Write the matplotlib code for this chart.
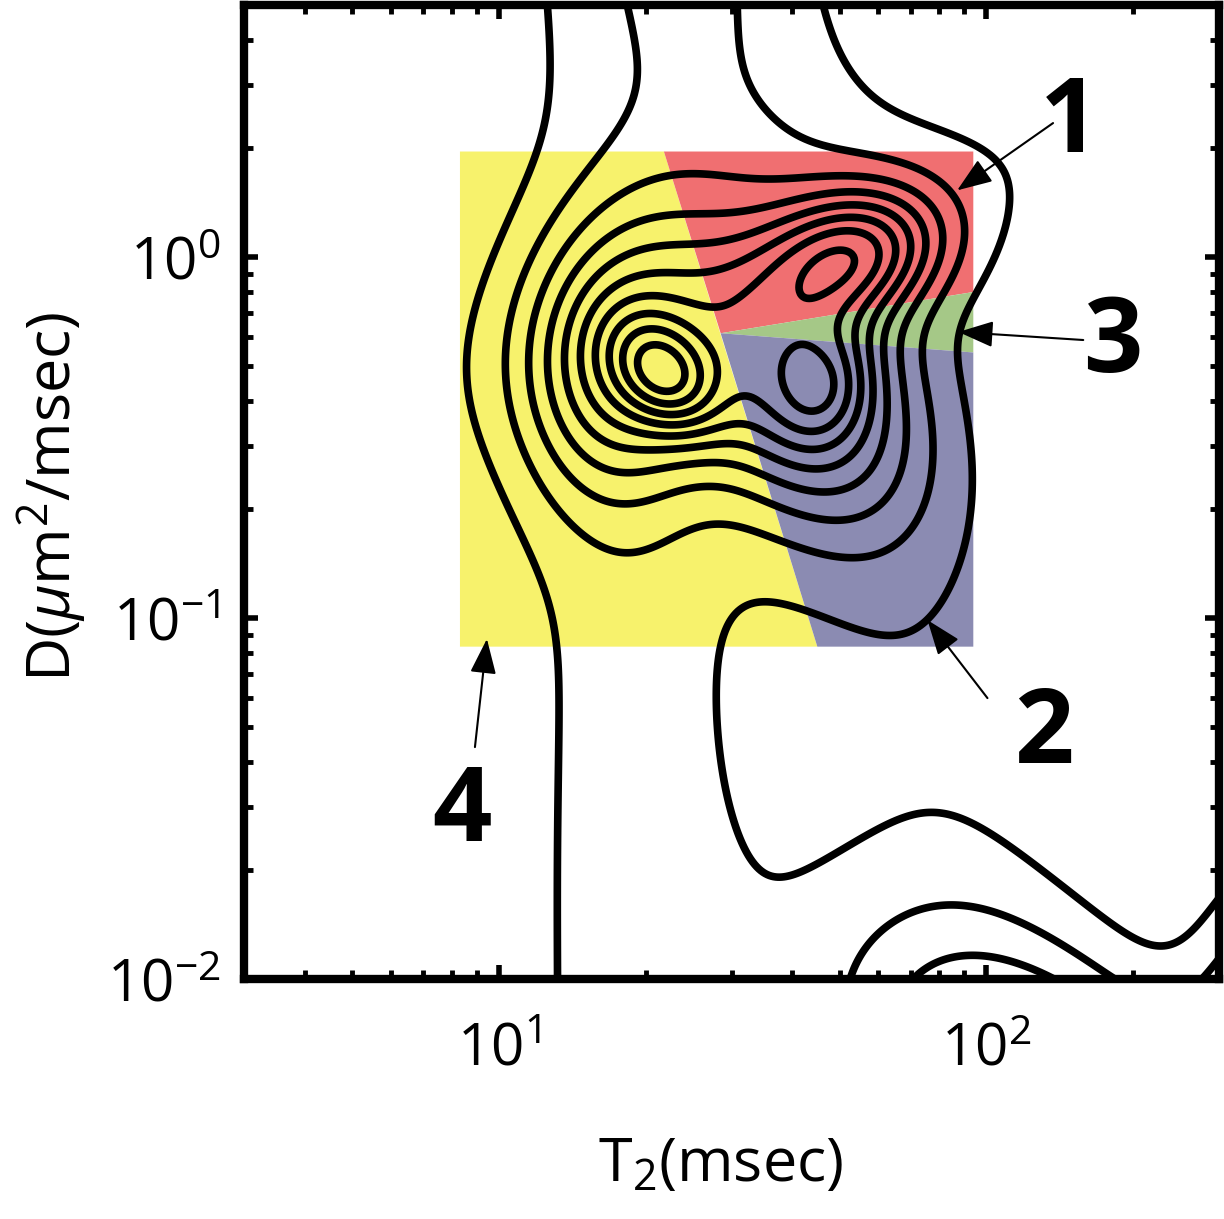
import numpy as np
import matplotlib
matplotlib.use("Agg")
import matplotlib.pyplot as plt
from matplotlib.patches import Polygon
from matplotlib.ticker import LogLocator, NullFormatter

# T2-D distribution, described as a sum of gaussian components (log10 units)
comp_logT2 = [1.344, 1.596, 1.847, 1.669, 1.274, 1.272, 2.214, 2.62, 1.732, 1.240]
comp_logD = [-0.331, -0.352, 0.154, -0.356, 1.702, -2.420, -2.504, -2.6, 0.008, -0.303]
comp_width_T2 = [0.075, 0.174, 0.862, 0.068, 0.543, 0.184, 0.316, 0.12, 0.124, 0.130]
comp_width_D = [0.107, 0.270, 0.490, 0.108, 2.501, 7.410, 0.413, 0.45, 0.129, 0.256]
comp_corr = [-0.311, -0.378, 0.860, 0.141, -0.935, 0.059, -0.587, 0.0, 0.208, 0.041]
comp_height = [3.809, 5.453, 0.841, 1.974, 1.443, 1.399, 6.503, 9.6, 5.25, 4.519]
contour_levels = [1, 2, 3, 4, 5, 6, 7, 8, 9, 10]

# shaded regions (T2, D corners)
region_colors = ["#F7F26C", "#F06F71", "#A5C887", "#8B8BB2"]
region_vertices = [
    [(8.32, 0.0833), (8.32, 1.96), (21.8, 1.96), (45.0, 0.0833)],
    [(21.8, 1.96), (94.0, 1.96), (94.0, 0.80), (28.5, 0.615)],
    [(28.5, 0.615), (94.0, 0.80), (94.0, 0.544)],
    [(28.5, 0.615), (94.0, 0.544), (94.0, 0.0833), (45.0, 0.0833)],
]


def distribution(u, v):
    z = np.zeros_like(u)
    for u0, v0, su, sv, r, a in zip(comp_logT2, comp_logD, comp_width_T2, comp_width_D, comp_corr, comp_height):
        du = (u - u0) / su
        dv = (v - v0) / sv
        z += a * np.exp(-0.5 * (du * du - 2 * r * du * dv + dv * dv) / (1 - r * r))
    return z


plt.rcParams["font.family"] = ["Open Sans", "DejaVu Sans"]
plt.rcParams["mathtext.fontset"] = "custom"
plt.rcParams["mathtext.rm"] = "Open Sans"
plt.rcParams["mathtext.it"] = "Open Sans:italic"

T2 = np.logspace(0.4, 2.55, 500)
D = np.logspace(-2.1, 0.75, 500)
UU, VV = np.meshgrid(np.log10(T2), np.log10(D))
Z = distribution(UU, VV)

fig = plt.figure(figsize=(12.24, 12.19), dpi=100)
ax = fig.add_axes([244 / 1224, 1 - 979 / 1219, 975 / 1224, 974.3 / 1219])
ax.set_xscale("log")
ax.set_yscale("log")
for verts, col in zip(region_vertices, region_colors):
    ax.add_patch(Polygon(verts, closed=True, facecolor=col, edgecolor="none", zorder=1))
ax.contour(T2, D, Z, levels=contour_levels, colors="black", linewidths=5.5, zorder=2)
ax.set_xlim(3, 300)
ax.set_ylim(0.01, 5)

for s in ax.spines.values():
    s.set_linewidth(6)
    s.set_zorder(5)
for axis in (ax.xaxis, ax.yaxis):
    axis.set_major_locator(LogLocator(base=10, numticks=10))
    axis.set_minor_locator(LogLocator(base=10, subs=np.arange(2, 10), numticks=20))
    axis.set_minor_formatter(NullFormatter())
ax.tick_params(which="both", direction="in", top=True, right=True, labelsize=42)
ax.tick_params(which="major", length=10, width=4)
ax.tick_params(which="minor", length=6.5, width=3.5)
ax.tick_params(axis="x", which="major", pad=30)
ax.tick_params(axis="y", which="major", pad=17)

fig.text(721 / 1224, 1 - 1165 / 1219, r"T$_2$(msec)", fontsize=44, ha="center", va="center")
fig.text(52 / 1224, 1 - 497 / 1219, r"D($\mu$m$^2$/msec)", fontsize=44, ha="center", va="center", rotation=90)

# numbered callouts
arrow = dict(arrowstyle="-|>,head_length=0.72,head_width=0.27", color="black", lw=1.5,
             shrinkA=0, shrinkB=0, mutation_scale=30)
ax.annotate("", xy=(87.1, 1.53), xytext=(137, 2.35), arrowprops=arrow, zorder=4)
ax.annotate("", xy=(87.6, 0.620), xytext=(158, 0.589), arrowprops=arrow, zorder=4)
ax.annotate("", xy=(75.7, 0.0987), xytext=(100.5, 0.060), arrowprops=arrow, zorder=4)
ax.annotate("", xy=(9.45, 0.0875), xytext=(8.93, 0.0439), arrowprops=arrow, zorder=4)
for label, x, y in [("1", 148, 2.32), ("3", 182, 0.57), ("2", 131, 0.0471), ("4", 8.40, 0.0286)]:
    ax.text(x, y, label, fontsize=75, fontweight="bold", ha="center", va="center", zorder=4)

fig.savefig("out.png", dpi=100)
